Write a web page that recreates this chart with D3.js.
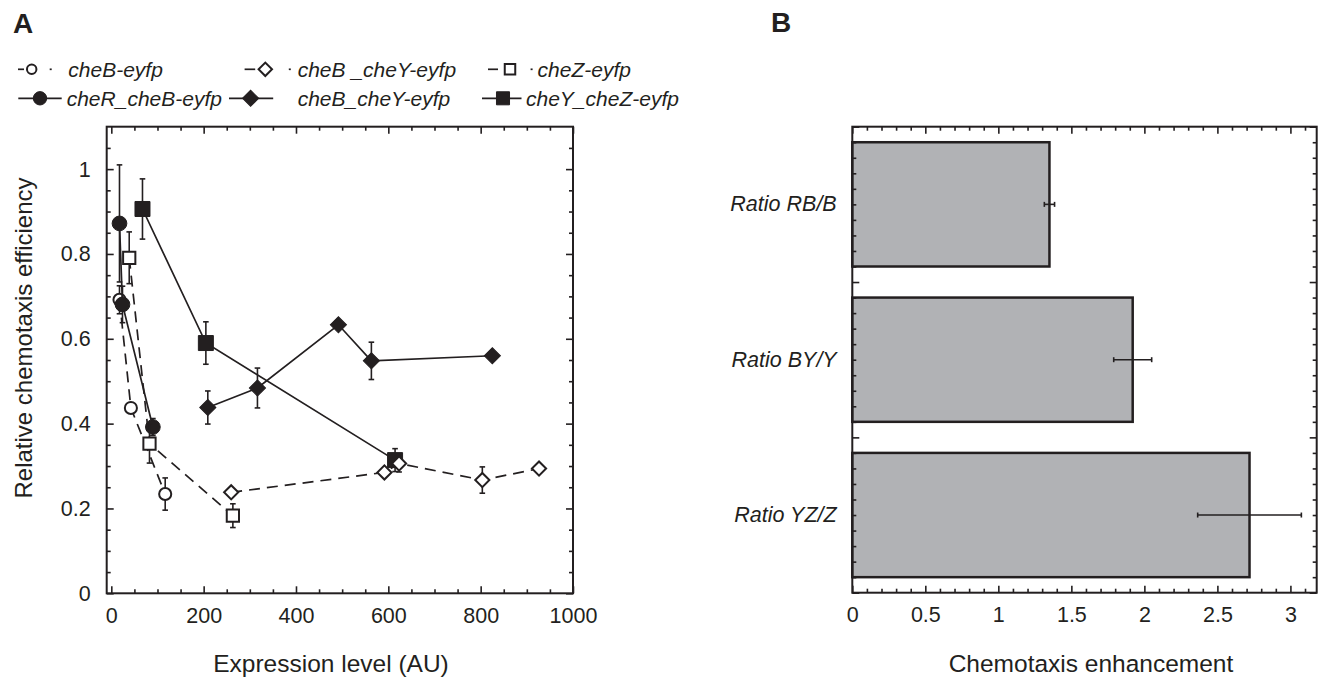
<!DOCTYPE html>
<html><head><meta charset="utf-8">
<script src="https://cdn.jsdelivr.net/npm/d3@7"></script>
<style>
body{margin:0;background:#fff;}
svg{display:block;}
text{font-family:"Liberation Sans",Arial,Helvetica,sans-serif;fill:#231f20;}
</style>
</head><body>
<svg id="chart" width="1322" height="678"></svg>
<script>
// ---------- Panel A data ----------
const cheB_x = [17.7, 42.4, 116.7];
const cheB_y = [0.692, 0.437, 0.234];
const cheB_err = [0.033, 0, 0.038];

const cheRcheB_x = [17.7, 24.2, 90];
const cheRcheB_y = [0.872, 0.681, 0.392];
const cheRcheB_err = [0.138, 0.043, 0.02];

const cheBcheYopen_x = [259.6, 591.5, 623.3, 803.6, 926.4];
const cheBcheYopen_y = [0.238, 0.285, 0.306, 0.267, 0.294];
const cheBcheYopen_err = [0.01, 0, 0.02, 0.031, 0];

const cheBcheY_x = [209, 316.5, 491.9, 563.3, 825.3];
const cheBcheY_y = [0.438, 0.484, 0.633, 0.548, 0.560];
const cheBcheY_err = [0.039, 0.047, 0, 0.044, 0];

const cheZ_x = [38.8, 82.7, 263.3];
const cheZ_y = [0.791, 0.353, 0.183];
const cheZ_err = [0.061, 0.046, 0.028];

const cheYcheZ_x = [67.5, 204.8, 614.6];
const cheYcheZ_y = [0.906, 0.590, 0.314];
const cheYcheZ_err = [0.071, 0.05, 0.027];

const xTicksA = [0, 200, 400, 600, 800, 1000];
const yTicksA = [0, 0.2, 0.4, 0.6, 0.8, 1];

// ---------- Panel B data ----------
const ratioCategories = ["Ratio RB/B", "Ratio BY/Y", "Ratio YZ/Z"];
const ratioValues = [1.35, 1.92, 2.72];
const ratioErrors = [0.035, 0.13, 0.355];
const xTicksB = [0, 0.5, 1, 1.5, 2, 2.5, 3];

// ---------- setup ----------
const INK = "#231f20";
const svg = d3.select("#chart");

function zip(xs, ys, es){ return xs.map((x,i)=>({x, y: ys[i], e: es[i]})); }

const series = [
  {name:"cheB-eyfp",       data: zip(cheB_x, cheB_y, cheB_err),             shape:"circle",  fill:false, dash:true,  size:115},
  {name:"cheR_cheB-eyfp",  data: zip(cheRcheB_x, cheRcheB_y, cheRcheB_err), shape:"circle",  fill:true,  dash:false, size:170},
  {name:"cheY_cheZ-eyfp",  data: zip(cheYcheZ_x, cheYcheZ_y, cheYcheZ_err), shape:"square",  fill:true,  dash:false, size:225},
  {name:"cheB_cheY-eyfp",  data: zip(cheBcheY_x, cheBcheY_y, cheBcheY_err), shape:"diamond", fill:true,  dash:false, size:130},
  {name:"cheB _cheY-eyfp", data: zip(cheBcheYopen_x, cheBcheYopen_y, cheBcheYopen_err), shape:"diamond", fill:false, dash:true, size:100},
  {name:"cheZ-eyfp",       data: zip(cheZ_x, cheZ_y, cheZ_err),             shape:"square",  fill:false, dash:true,  size:150}
];

function symPath(shape, size){
  const t = shape==="circle" ? d3.symbolCircle : d3.symbolSquare;
  return d3.symbol().type(t).size(size)();
}
function drawMarker(g, shape, fill, size, x, y){
  g.append("path")
    .attr("d", symPath(shape, size))
    .attr("transform", `translate(${x},${y})` + (shape==="diamond" ? " rotate(45)" : ""))
    .attr("fill", fill ? INK : "#fff")
    .attr("stroke", INK)
    .attr("stroke-width", fill ? 1 : 2);
}

// ---------- Panel A ----------
const A = {left:106.7, right:573, top:126.7, bottom:593.3};
const xA = d3.scaleLinear().domain([-10, 1000]).range([A.left, A.right]);
const yA = d3.scaleLinear().domain([0, 1.1]).range([A.bottom, A.top]);
const gA = svg.append("g");

gA.append("rect").attr("x",A.left).attr("y",A.top).attr("width",A.right-A.left).attr("height",A.bottom-A.top)
  .attr("fill","none").attr("stroke",INK).attr("stroke-width",2);

const xMinorA = d3.range(50, 1000, 50).filter(v => v % 200 !== 0);
const yMinorA = d3.range(0.05, 1.1, 0.05).map(v=>+v.toFixed(2)).filter(v => Math.abs(v/0.2 - Math.round(v/0.2))>1e-6);

function styleAxis(sel, fontSize){
  sel.select(".domain").remove();
  sel.selectAll("line").attr("stroke",INK).attr("stroke-width",1.6);
  sel.selectAll("text").attr("font-size",fontSize).attr("fill",INK).attr("font-family",'"Liberation Sans",Arial,sans-serif');
}
gA.append("g").attr("transform",`translate(0,${A.bottom})`)
  .call(d3.axisBottom(xA).tickValues(xTicksA).tickSize(-7).tickPadding(14).tickFormat(d3.format("~g")))
  .call(s=>styleAxis(s,21.5));
gA.append("g").attr("transform",`translate(0,${A.bottom})`)
  .call(d3.axisBottom(xA).tickValues(xMinorA).tickSize(-4).tickFormat(""))
  .call(s=>styleAxis(s,0));
gA.append("g").attr("transform",`translate(0,${A.top})`)
  .call(d3.axisTop(xA).tickValues(xTicksA).tickSize(-7).tickFormat(""))
  .call(s=>styleAxis(s,0));
gA.append("g").attr("transform",`translate(0,${A.top})`)
  .call(d3.axisTop(xA).tickValues(xMinorA).tickSize(-4).tickFormat(""))
  .call(s=>styleAxis(s,0));
gA.append("g").attr("transform",`translate(${A.left},0)`)
  .call(d3.axisLeft(yA).tickValues(yTicksA).tickSize(-7).tickPadding(16).tickFormat(d3.format("~g")))
  .call(s=>styleAxis(s,21.5));
gA.append("g").attr("transform",`translate(${A.left},0)`)
  .call(d3.axisLeft(yA).tickValues(yMinorA).tickSize(-4).tickFormat(""))
  .call(s=>styleAxis(s,0));
gA.append("g").attr("transform",`translate(${A.right},0)`)
  .call(d3.axisRight(yA).tickValues(yTicksA).tickSize(-7).tickFormat(""))
  .call(s=>styleAxis(s,0));
gA.append("g").attr("transform",`translate(${A.right},0)`)
  .call(d3.axisRight(yA).tickValues(yMinorA).tickSize(-4).tickFormat(""))
  .call(s=>styleAxis(s,0));

gA.append("text").attr("x",331).attr("y",672).attr("text-anchor","middle").attr("font-size",24.5).text("Expression level (AU)");
gA.append("text").attr("transform","translate(32,338) rotate(-90)").attr("text-anchor","middle").attr("font-size",24).text("Relative chemotaxis efficiency");

const line = d3.line().x(d=>xA(d.x)).y(d=>yA(d.y));
series.forEach(s=>{
  const g = gA.append("g");
  g.append("path").datum(s.data).attr("d",line).attr("fill","none").attr("stroke",INK)
    .attr("stroke-width",1.7).attr("stroke-dasharray", s.dash ? "11,7" : null);
  s.data.filter(d=>d.e>0).forEach(d=>{
    const x = xA(d.x), y0 = yA(d.y - d.e), y1 = yA(d.y + d.e);
    g.append("line").attr("x1",x).attr("x2",x).attr("y1",y0).attr("y2",y1).attr("stroke",INK).attr("stroke-width",1.6);
    [y0,y1].forEach(yy=>g.append("line").attr("x1",x-2.8).attr("x2",x+2.8).attr("y1",yy).attr("y2",yy).attr("stroke",INK).attr("stroke-width",1.6));
  });
  s.data.forEach(d=>drawMarker(g, s.shape, s.fill, s.size, xA(d.x), yA(d.y)));
});

// legend
const legend = [
  {name:"cheB-eyfp",        shape:"circle",  fill:false, size:70,  row:0, lx0:18,    lx1:24,    mx:31.7,  dot:50.7,  tx:68.3},
  {name:"cheB _cheY-eyfp",  shape:"diamond", fill:false, size:90,  row:0, lx0:244.6, lx1:255.2, mx:265.3, dot:289.8, tx:297.7},
  {name:"cheZ-eyfp",        shape:"square",  fill:false, size:110, row:0, lx0:488,   lx1:498,   mx:510,   dot:531.6, tx:537.6},
  {name:"cheR_cheB-eyfp",   shape:"circle",  fill:true,  size:140, row:1, lx0:18.3,  lx1:61.7,  mx:40,    dot:null,  tx:66.7},
  {name:"cheB_cheY-eyfp",   shape:"diamond", fill:true,  size:130, row:1, lx0:229,   lx1:273.2, mx:250.6, dot:null,  tx:297.7},
  {name:"cheY_cheZ-eyfp",   shape:"square",  fill:true,  size:170, row:1, lx0:482,   lx1:521.5, mx:503,   dot:null,  tx:526}
];
const rowY = [69.3, 98.3];
const gL = svg.append("g");
legend.forEach(l=>{
  const y = rowY[l.row];
  gL.append("line").attr("x1",l.lx0).attr("x2",l.lx1).attr("y1",y).attr("y2",y).attr("stroke",INK).attr("stroke-width",1.7);
  if(l.dot!==null) gL.append("line").attr("x1",l.dot-1).attr("x2",l.dot+1).attr("y1",y).attr("y2",y).attr("stroke",INK).attr("stroke-width",1.7);
  drawMarker(gL, l.shape, l.fill, l.size, l.mx, y);
  gL.append("text").attr("x",l.tx).attr("y",y).attr("dy","0.36em").attr("font-size",21).attr("font-style","italic").text(l.name);
});

svg.append("text").attr("x",13).attr("y",33).attr("font-size",28).attr("font-weight","bold").text("A");
svg.append("text").attr("x",771).attr("y",32).attr("font-size",28).attr("font-weight","bold").text("B");

// ---------- Panel B ----------
const B = {left:852.3, right:1316.7, top:126.7, bottom:592.7};
const xB = d3.scaleLinear().domain([0, 3.18]).range([B.left, B.right]);
const yBand = d3.scaleBand().domain(ratioCategories).range([B.top, B.bottom]).paddingInner(0.2).paddingOuter(0.1);
const yTick = d3.scaleLinear().domain([0, 3]).range([B.top, B.bottom]);
const gB = svg.append("g");

const xMinorB = d3.range(0.1, 3.15, 0.1).map(v=>+v.toFixed(2)).filter(v => Math.abs(v*2 - Math.round(v*2))>1e-6);
const yMinorB = d3.range(0.1, 3, 0.1).map(v=>+v.toFixed(2)).filter(v => Math.abs(v - Math.round(v))>1e-6);
const yMajorB = [0,1,2,3];

gB.selectAll("rect.bar").data(ratioCategories).join("rect").attr("class","bar")
  .attr("x", xB(0)).attr("y", d=>yBand(d))
  .attr("width", (d,i)=>xB(ratioValues[i]) - xB(0)).attr("height", yBand.bandwidth())
  .attr("fill","#b1b2b5").attr("stroke",INK).attr("stroke-width",2.5);

ratioCategories.forEach((c,i)=>{
  const yc = yBand(c) + yBand.bandwidth()/2;
  const x0 = xB(ratioValues[i]-ratioErrors[i]), x1 = xB(ratioValues[i]+ratioErrors[i]);
  gB.append("line").attr("x1",x0).attr("x2",x1).attr("y1",yc).attr("y2",yc).attr("stroke",INK).attr("stroke-width",1.6);
  [x0,x1].forEach(xx=>gB.append("line").attr("x1",xx).attr("x2",xx).attr("y1",yc-2.5).attr("y2",yc+2.5).attr("stroke",INK).attr("stroke-width",1.6));
});

gB.append("rect").attr("x",B.left).attr("y",B.top).attr("width",B.right-B.left).attr("height",B.bottom-B.top)
  .attr("fill","none").attr("stroke",INK).attr("stroke-width",2);

gB.append("g").attr("transform",`translate(0,${B.bottom})`)
  .call(d3.axisBottom(xB).tickValues(xTicksB).tickSize(-7).tickPadding(14).tickFormat(d3.format("~g")))
  .call(s=>styleAxis(s,21.5));
gB.append("g").attr("transform",`translate(0,${B.bottom})`)
  .call(d3.axisBottom(xB).tickValues(xMinorB).tickSize(-4).tickFormat(""))
  .call(s=>styleAxis(s,0));
gB.append("g").attr("transform",`translate(0,${B.top})`)
  .call(d3.axisTop(xB).tickValues(xTicksB).tickSize(-7).tickFormat(""))
  .call(s=>styleAxis(s,0));
gB.append("g").attr("transform",`translate(0,${B.top})`)
  .call(d3.axisTop(xB).tickValues(xMinorB).tickSize(-4).tickFormat(""))
  .call(s=>styleAxis(s,0));
[[B.left,d3.axisLeft],[B.right,d3.axisRight]].forEach(([xx,ax])=>{
  gB.append("g").attr("transform",`translate(${xx},0)`)
    .call(ax(yTick).tickValues(yMajorB).tickSize(-7).tickFormat("")).call(s=>styleAxis(s,0));
  gB.append("g").attr("transform",`translate(${xx},0)`)
    .call(ax(yTick).tickValues(yMinorB).tickSize(-4).tickFormat("")).call(s=>styleAxis(s,0));
});
gB.append("g").attr("transform",`translate(${B.left},0)`)
  .call(d3.axisLeft(yBand).tickSize(0).tickPadding(15.6))
  .call(s=>{ s.select(".domain").remove(); s.selectAll("text").attr("font-size",21.5).attr("font-style","italic").attr("fill",INK).attr("font-family",'"Liberation Sans",Arial,sans-serif'); });

gB.append("text").attr("x",1091).attr("y",672).attr("text-anchor","middle").attr("font-size",24.5).text("Chemotaxis enhancement");
</script>
</body></html>
